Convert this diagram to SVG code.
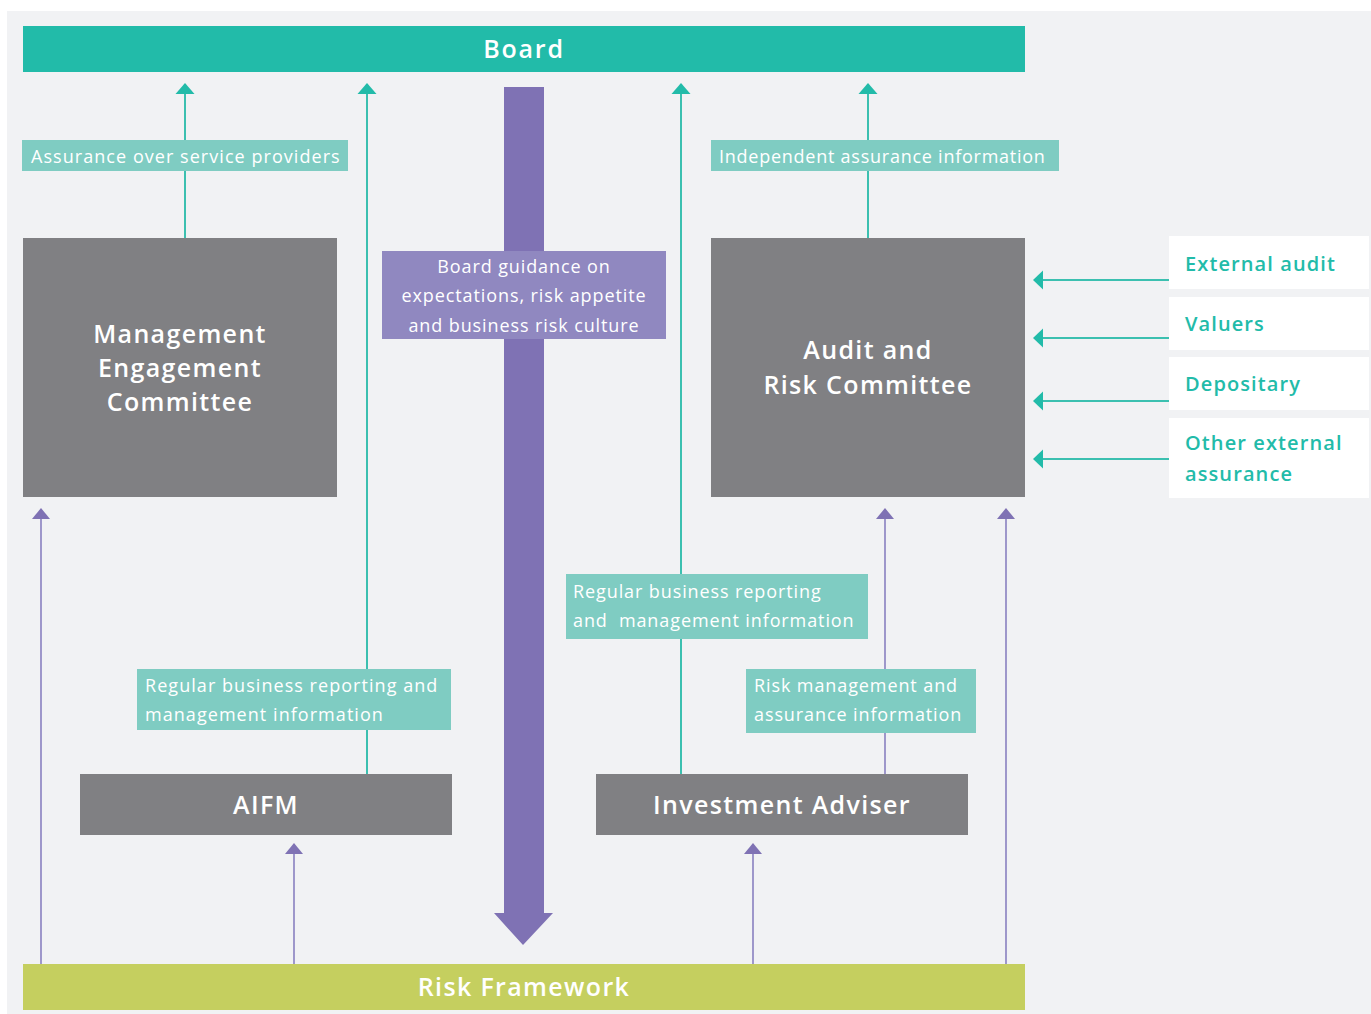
<svg xmlns="http://www.w3.org/2000/svg" width="1371" height="1014" viewBox="0 0 1371 1014">
  <style>
    .node { fill: #808083; }
    .label { fill: #7fccc2; }
    .ext { fill: #ffffff; }
    .title { font-family: "Open Sans", "Liberation Sans", sans-serif; font-weight: 600; fill: #ffffff; font-size: 25px; letter-spacing: 1.35px; text-anchor: middle; }
    .small { font-family: "Open Sans", "Liberation Sans", sans-serif; font-weight: 400; fill: #ffffff; font-size: 18px; letter-spacing: 1.05px; }
    .extText { font-family: "Open Sans", "Liberation Sans", sans-serif; font-weight: 600; fill: #22bba9; font-size: 20px; letter-spacing: 1.1px; }
    .teal { stroke: #3cc0b0; stroke-width: 2; fill: none; }
    .purple { stroke: #8a80c0; stroke-width: 1.6; fill: none; }
    .tealHead { fill: #22bba9; }
    .purpleHead { fill: #7f72b4; }
  </style>

  <!-- page background -->
  <rect x="0" y="0" width="1371" height="1014" fill="#ffffff"/>
  <rect x="7" y="11" width="1364" height="1003" fill="#f1f2f4"/>

  <!-- connectors -->
  <g id="connectors">
    <!-- teal: up to the Board -->
    <line class="teal" x1="185" y1="238" x2="185" y2="90"/>
    <line class="teal" x1="367" y1="774" x2="367" y2="90"/>
    <line class="teal" x1="681" y1="774" x2="681" y2="90"/>
    <line class="teal" x1="868" y1="238" x2="868" y2="90"/>
    <path class="tealHead" d="M175.5,94 L185,83 L194.5,94 Z"/>
    <path class="tealHead" d="M357.5,94 L367,83 L376.5,94 Z"/>
    <path class="tealHead" d="M671.5,94 L681,83 L690.5,94 Z"/>
    <path class="tealHead" d="M858.5,94 L868,83 L877.5,94 Z"/>

    <!-- teal: external assurance into Audit and Risk Committee -->
    <line class="teal" x1="1169" y1="280" x2="1040" y2="280"/>
    <line class="teal" x1="1169" y1="338" x2="1040" y2="338"/>
    <line class="teal" x1="1169" y1="401" x2="1040" y2="401"/>
    <line class="teal" x1="1169" y1="459" x2="1040" y2="459"/>
    <path class="tealHead" d="M1043,270.5 L1033,280 L1043,289.5 Z"/>
    <path class="tealHead" d="M1043,328.5 L1033,338 L1043,347.5 Z"/>
    <path class="tealHead" d="M1043,391.5 L1033,401 L1043,410.5 Z"/>
    <path class="tealHead" d="M1043,449.5 L1033,459 L1043,468.5 Z"/>

    <!-- purple: up from the Risk Framework -->
    <line class="purple" x1="41" y1="964" x2="41" y2="516"/>
    <line class="purple" x1="294" y1="964" x2="294" y2="851"/>
    <line class="purple" x1="753" y1="964" x2="753" y2="851"/>
    <line class="purple" x1="885" y1="774" x2="885" y2="516"/>
    <line class="purple" x1="1006" y1="964" x2="1006" y2="516"/>
    <path class="purpleHead" d="M32,519 L41,508 L50,519 Z"/>
    <path class="purpleHead" d="M285,854 L294,843 L303,854 Z"/>
    <path class="purpleHead" d="M744,854 L753,843 L762,854 Z"/>
    <path class="purpleHead" d="M876,519 L885,508 L894,519 Z"/>
    <path class="purpleHead" d="M997,519 L1006,508 L1015,519 Z"/>

    <!-- broad purple arrow: Board guidance down to the Risk Framework -->
    <path class="purpleHead" d="M504,87 L544,87 L544,913 L553,913 L523,945 L494,913 L504,913 Z"/>
  </g>

  <!-- Board -->
  <g id="board">
    <rect x="23" y="26" width="1002" height="46" fill="#22bba9"/>
    <text class="title" x="524" y="58" style="letter-spacing:1.8px">Board</text>
  </g>

  <!-- Risk Framework -->
  <g id="risk-framework">
    <rect x="23" y="964" width="1002" height="46" fill="#c5cf5f"/>
    <text class="title" x="524" y="996">Risk Framework</text>
  </g>

  <!-- Management Engagement Committee -->
  <g id="mec">
    <rect class="node" x="23" y="238" width="314" height="259"/>
    <text class="title" x="180" y="343">Management</text>
    <text class="title" x="180" y="377">Engagement</text>
    <text class="title" x="180" y="411">Committee</text>
  </g>

  <!-- Audit and Risk Committee -->
  <g id="arc">
    <rect class="node" x="711" y="238" width="314" height="259"/>
    <text class="title" x="868" y="359">Audit and</text>
    <text class="title" x="868" y="394">Risk Committee</text>
  </g>

  <!-- AIFM -->
  <g id="aifm">
    <rect class="node" x="80" y="774" width="372" height="61"/>
    <text class="title" x="266" y="814">AIFM</text>
  </g>

  <!-- Investment Adviser -->
  <g id="investment-adviser">
    <rect class="node" x="596" y="774" width="372" height="61"/>
    <text class="title" x="782" y="814">Investment Adviser</text>
  </g>

  <!-- connector labels -->
  <g id="label-assurance-providers">
    <rect class="label" x="22" y="140" width="326" height="31"/>
    <text class="small" x="31" y="163">Assurance over service providers</text>
  </g>
  <g id="label-independent">
    <rect class="label" x="711" y="140" width="348" height="31"/>
    <text class="small" x="719" y="163" style="letter-spacing:0.75px">Independent assurance information</text>
  </g>
  <g id="label-board-guidance">
    <rect x="382" y="251" width="284" height="88" fill="#9088c0"/>
    <text class="small" x="524" y="273" text-anchor="middle" style="letter-spacing:0.9px">Board guidance on</text>
    <text class="small" x="524" y="302" text-anchor="middle" style="letter-spacing:0.9px">expectations, risk appetite</text>
    <text class="small" x="524" y="332" text-anchor="middle" style="letter-spacing:0.9px">and business risk culture</text>
  </g>
  <g id="label-aifm-reporting">
    <rect class="label" x="137" y="669" width="314" height="61"/>
    <text class="small" x="145" y="692">Regular business reporting and</text>
    <text class="small" x="145" y="721">management information</text>
  </g>
  <g id="label-adviser-reporting">
    <rect class="label" x="566" y="574" width="302" height="65"/>
    <text class="small" x="573" y="598" style="letter-spacing:0.9px">Regular business reporting</text>
    <text class="small" x="573" y="627" xml:space="preserve" style="letter-spacing:0.9px">and  management information</text>
  </g>
  <g id="label-risk-management">
    <rect class="label" x="746" y="669" width="230" height="64"/>
    <text class="small" x="754" y="692" style="letter-spacing:0.9px">Risk management and</text>
    <text class="small" x="754" y="721" style="letter-spacing:0.9px">assurance information</text>
  </g>

  <!-- external assurance providers -->
  <g id="external-audit">
    <rect class="ext" x="1169" y="236" width="200" height="53"/>
    <text class="extText" x="1185" y="271">External audit</text>
  </g>
  <g id="valuers">
    <rect class="ext" x="1169" y="297" width="200" height="53"/>
    <text class="extText" x="1185" y="331">Valuers</text>
  </g>
  <g id="depositary">
    <rect class="ext" x="1169" y="357" width="200" height="53"/>
    <text class="extText" x="1185" y="391">Depositary</text>
  </g>
  <g id="other-external">
    <rect class="ext" x="1169" y="418" width="200" height="80"/>
    <text class="extText" x="1185" y="450">Other external</text>
    <text class="extText" x="1185" y="481">assurance</text>
  </g>
</svg>
